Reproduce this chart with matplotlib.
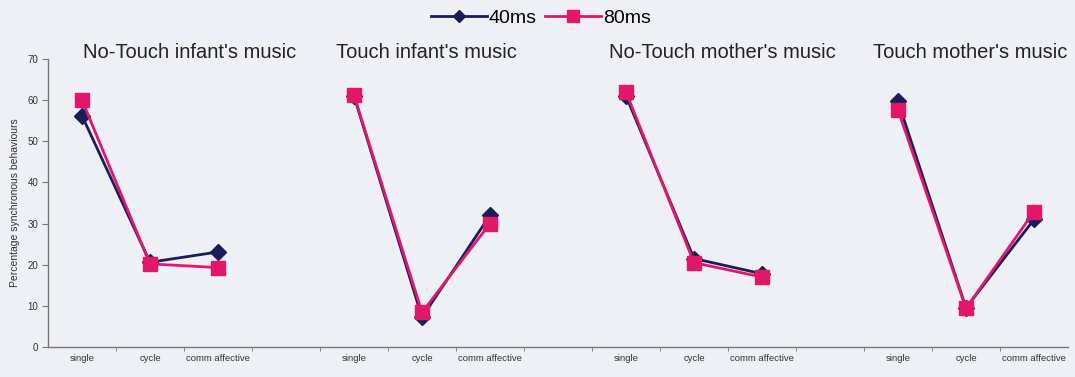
import numpy as np
import matplotlib
matplotlib.use("Agg")
import matplotlib.pyplot as plt

plt.rcParams["font.family"] = ["Liberation Sans", "DejaVu Sans"]

# conditions shown left to right
conditions = ["No-Touch infant's music", "Touch infant's music",
              "No-Touch mother's music", "Touch mother's music"]
behaviours = ["single", "cycle", "comm affective"]

# percentage synchronous behaviours, one triple per condition
ms40 = [[56.2, 20.6, 23.1],
        [61.0, 7.2, 32.0],
        [61.0, 21.5, 17.8],
        [59.7, 9.5, 31.0]]
ms80 = [[60.0, 20.2, 19.3],
        [61.2, 8.4, 30.0],
        [62.0, 20.5, 17.0],
        [57.6, 9.4, 32.9]]

bg = "#eef0f6"
navy = "#1a1d5c"
pink = "#e3176a"

fig = plt.figure(figsize=(10.75, 3.77), dpi=100, facecolor=bg)
ax = fig.add_axes([48 / 1075, 1 - 347 / 377, 1020 / 1075, 288 / 377])
ax.set_facecolor(bg)

# category slots: 3 behaviours then an empty slot between conditions
n = len(conditions)
labels = []
for i in range(n):
    labels += behaviours + ([""] if i < n - 1 else [])
xpos = np.arange(len(labels))

# title offsets from the first slot of each condition
title_dx = [1.59, 1.06, 1.41, 1.06]

for i in range(n):
    xs = xpos[i * 4:i * 4 + 3]
    l1, = ax.plot(xs, ms40[i], color=navy, lw=2, marker="D", ms=8,
                  mfc=navy, mec=navy, zorder=3)
    l2, = ax.plot(xs, ms80[i], color=pink, lw=2, marker="s", ms=10,
                  mfc=pink, mec=pink, zorder=4)
    ax.text(i * 4 + title_dx[i], 71.7, conditions[i],
            ha="center", va="center", fontsize=14.5, color="#222222",
            clip_on=False)

ax.set_xlim(-0.5, len(labels) - 0.5)
ax.set_ylim(0, 70)
ax.set_yticks(range(0, 71, 10))
ax.set_xticks(xpos)
ax.set_xticklabels(labels, fontsize=6.8, color="#333333")
ax.set_xticks(np.arange(0.5, len(labels) - 0.5, 1), minor=True)
ax.tick_params(axis="x", which="major", length=0, pad=5)
ax.tick_params(axis="x", which="minor", length=3, color="#777777")
ax.tick_params(axis="y", length=4, color="#777777", labelsize=7,
               labelcolor="#333333", pad=3)
ax.set_ylabel("Percentage synchronous behaviours", fontsize=7.5,
              color="#333333", labelpad=5)

for s in ["top", "right"]:
    ax.spines[s].set_visible(False)
for s in ["left", "bottom"]:
    ax.spines[s].set_color("#777777")
    ax.spines[s].set_linewidth(1)

fig.legend([l1, l2], ["40ms", "80ms"], loc="center", ncol=2,
           bbox_to_anchor=(0.503, 0.952), frameon=False, fontsize=14,
           handlelength=2.9, handletextpad=0.1, columnspacing=0.4,
           borderaxespad=0, markerscale=0.8)

fig.savefig("out.png", dpi=100, facecolor=bg)
